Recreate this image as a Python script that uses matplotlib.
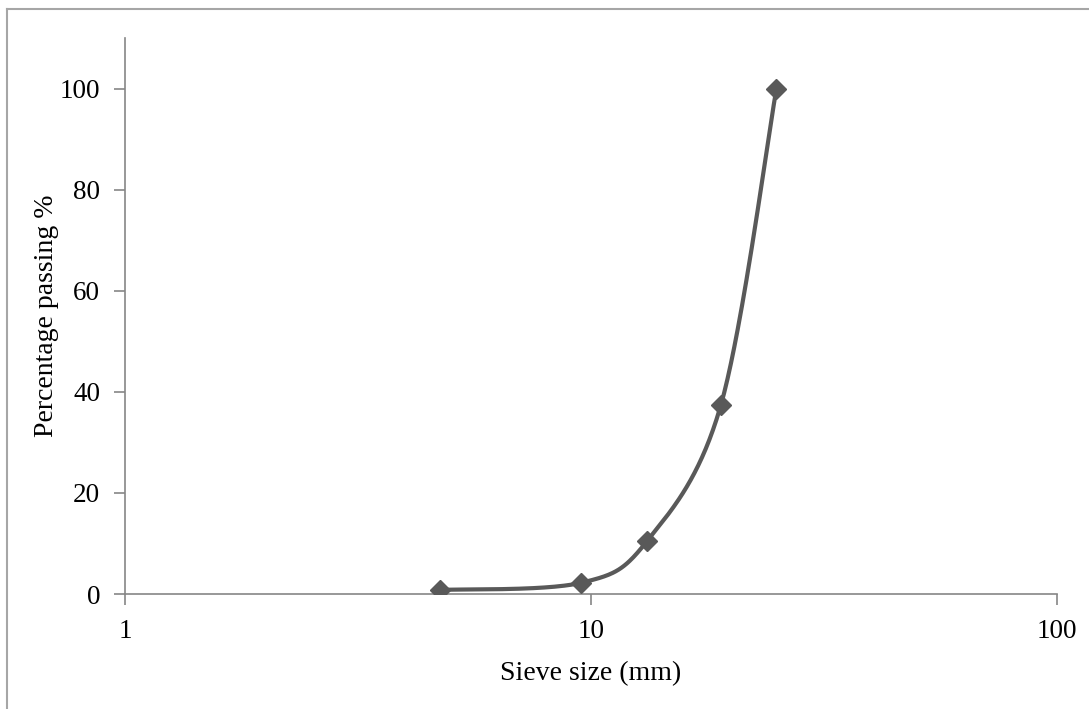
import numpy as np
from matplotlib import pyplot as plt
from matplotlib.lines import Line2D

# sieve analysis data
sieve_mm = [4.75, 9.5, 13.2, 19.0, 25.0]
passing = [0.8, 2.2, 10.5, 37.4, 100.0]
y_ticks = [0, 20, 40, 60, 80, 100]
x_ticks = [1, 10, 100]

plt.rcParams['font.family'] = ['Liberation Serif', 'DejaVu Serif']

'''
    Smooth curve the way a spreadsheet does it (Catmull-Rom Bezier),
    worked out in log10(x), y space.
'''
def SmoothCurve(xs, ys, steps=60):
    u = np.log10(np.array(xs, dtype=float))
    v = np.array(ys, dtype=float)
    pts = np.column_stack([u, v])
    n = len(pts)
    out = []
    for i in range(n - 1):
        p0 = pts[max(i - 1, 0)]
        p1 = pts[i]
        p2 = pts[i + 1]
        p3 = pts[min(i + 2, n - 1)]
        c1 = p1 + (p2 - p0) / 6.0
        c2 = p2 - (p3 - p1) / 6.0
        t = np.linspace(0, 1, steps)[:, None]
        seg = ((1 - t) ** 3) * p1 + 3 * ((1 - t) ** 2) * t * c1 \
            + 3 * (1 - t) * t ** 2 * c2 + t ** 3 * p2
        out.append(seg if i == 0 else seg[1:])
    out = np.vstack(out)
    return 10 ** out[:, 0], out[:, 1]

fig = plt.figure(figsize=(10.89, 7.09), dpi=100)
ax = fig.add_axes([125 / 1089, 1 - 594 / 709, (1057 - 125) / 1089, (594 - 38) / 709])

sx, sy = SmoothCurve(sieve_mm, passing)
ax.plot(sx, sy, color='#595959', linewidth=3, solid_capstyle='round', zorder=2)
ax.plot(sieve_mm, passing, linestyle='none', marker='D', markersize=10,
        color='#595959', zorder=3)

ax.set_xscale('log')
ax.set_xlim(1, 100)
ax.set_ylim(0, 110)
ax.set_xticks(x_ticks)
ax.set_xticklabels([str(t) for t in x_ticks])
ax.xaxis.set_minor_locator(plt.NullLocator())
ax.set_yticks(y_ticks)

for side in ['top', 'right']:
    ax.spines[side].set_visible(False)
for side in ['left', 'bottom']:
    ax.spines[side].set_color('#868686')
    ax.spines[side].set_linewidth(1.2)

ax.tick_params(axis='both', direction='out', length=8, width=1.2,
               color='#868686', labelsize=19.5, labelcolor='black')
ax.tick_params(axis='x', pad=10)
ax.tick_params(axis='y', pad=10)

ax.set_xlabel('Sieve size (mm)', fontsize=20, labelpad=12)
ax.set_ylabel('Percentage passing %', fontsize=20, labelpad=0)

# outer chart frame (clipped on right and bottom)
fx = 7 / 1089
fy = 1 - 9 / 709
fig.add_artist(Line2D([fx, 1], [fy, fy], color='#a6a6a6', linewidth=1.5,
                      transform=fig.transFigure))
fig.add_artist(Line2D([fx, fx], [0, fy], color='#a6a6a6', linewidth=1.5,
                      transform=fig.transFigure))

fig.savefig('out.png', dpi=100)
plt.close()
